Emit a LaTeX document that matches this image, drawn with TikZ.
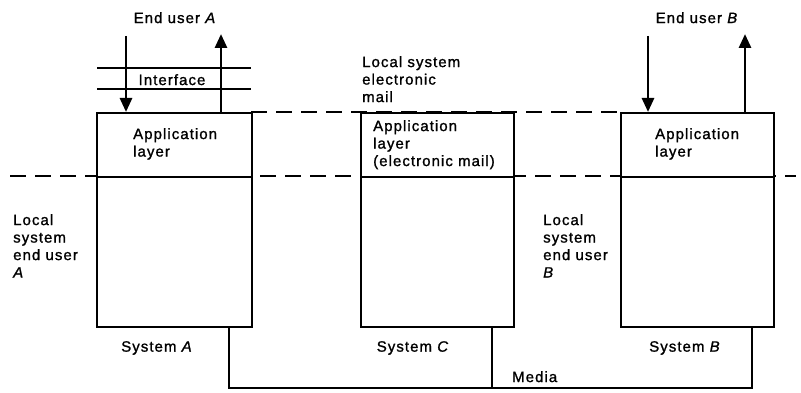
\documentclass[tikz,border=0pt]{standalone}
\usepackage{fontspec}
\setmainfont{Liberation Sans}[LetterSpace=7,FakeBold=1.2]
\usetikzlibrary{arrows.meta}
\begin{document}
\begin{tikzpicture}[x=1pt,y=-1pt,
  lbl/.style={inner sep=0pt,font=\fontsize{15}{17.5}\selectfont,align=left},
  boxpart/.style={draw,fill=white,line width=1.8pt,minimum width=155pt,inner sep=0pt,anchor=north west},
  flow/.style={line width=2.8pt,-{Triangle[width=12pt,length=14pt]}},
  ifline/.style={line width=1.6pt},
  level/.style={line width=1.8pt,dash pattern=on 16pt off 9pt},
  medium/.style={line width=2.8pt}]
\useasboundingbox (0,0) rectangle (801,393);
% dashed levels
\draw[level] (10,176) -- (796,176);
\draw[level] (251,112) -- (620,112);
% system boxes
\node[boxpart,minimum height=64pt] (appA) at (96,112) {};
\node[boxpart,minimum height=150pt] (lowA) at (96,176) {};
\node[boxpart,minimum height=64pt,minimum width=153pt] (appC) at (360,112) {};
\node[boxpart,minimum height=150pt,minimum width=153pt] (lowC) at (360,176) {};
\node[boxpart,minimum height=64pt,minimum width=153pt] (appB) at (620,112) {};
\node[boxpart,minimum height=150pt,minimum width=153pt] (lowB) at (620,176) {};
% end users
\node[lbl,anchor=north] (userA) at (175,12) {End user \textit{A}};
\node[lbl,anchor=north] (userB) at (697,12) {End user \textit{B}};
\coordinate (inA) at (126,36);
\coordinate (outA) at (221,34);
\coordinate (inB) at (648,36);
\coordinate (outB) at (745,34);
\draw[flow] (inA) -- (inA |- appA.north);
\draw[flow] (outA |- appA.north) -- (outA);
\draw[flow] (inB) -- (inB |- appB.north);
\draw[flow] (outB |- appB.north) -- (outB);
% interface
\coordinate (ifL1) at (97,68); \coordinate (ifR1) at (251,68);
\coordinate (ifL2) at (97,89); \coordinate (ifR2) at (251,89);
\draw[ifline] (ifL1) -- (ifR1);
\draw[ifline] (ifL2) -- (ifR2);
\node[lbl,anchor=north] (iface) at (172,74) {Interface};
% labels
\node[lbl,anchor=north west] (mailC) at (362,56) {Local system\\electronic\\mail};
\node[lbl,anchor=north west] (appAt) at (133,128) {Application\\layer};
\node[lbl,anchor=north west] (appCt) at (373,120) {Application\\layer\\(electronic mail)};
\node[lbl,anchor=north west] (appBt) at (655,128) {Application\\layer};
\node[lbl,anchor=north west] (locA) at (13,214) {Local\\system\\end user\\\textit{A}};
\node[lbl,anchor=north west] (locB) at (543,214) {Local\\system\\end user\\\textit{B}};
\node[lbl,anchor=north] (sysA) at (157,341) {System \textit{A}};
\node[lbl,anchor=north] (sysC) at (413,341) {System \textit{C}};
\node[lbl,anchor=north] (sysB) at (685,341) {System \textit{B}};
\node[lbl,anchor=north west] (media) at (512,371) {Media};
% media
\coordinate (mA) at (229,388);
\coordinate (mC) at (492,388);
\coordinate (mB) at (752,388);
\draw[medium] (mA |- lowA.south) -- (mA) -- (mB) -- (mB |- lowB.south);
\draw[medium] (mC |- lowC.south) -- (mC);
\end{tikzpicture}
\end{document}
